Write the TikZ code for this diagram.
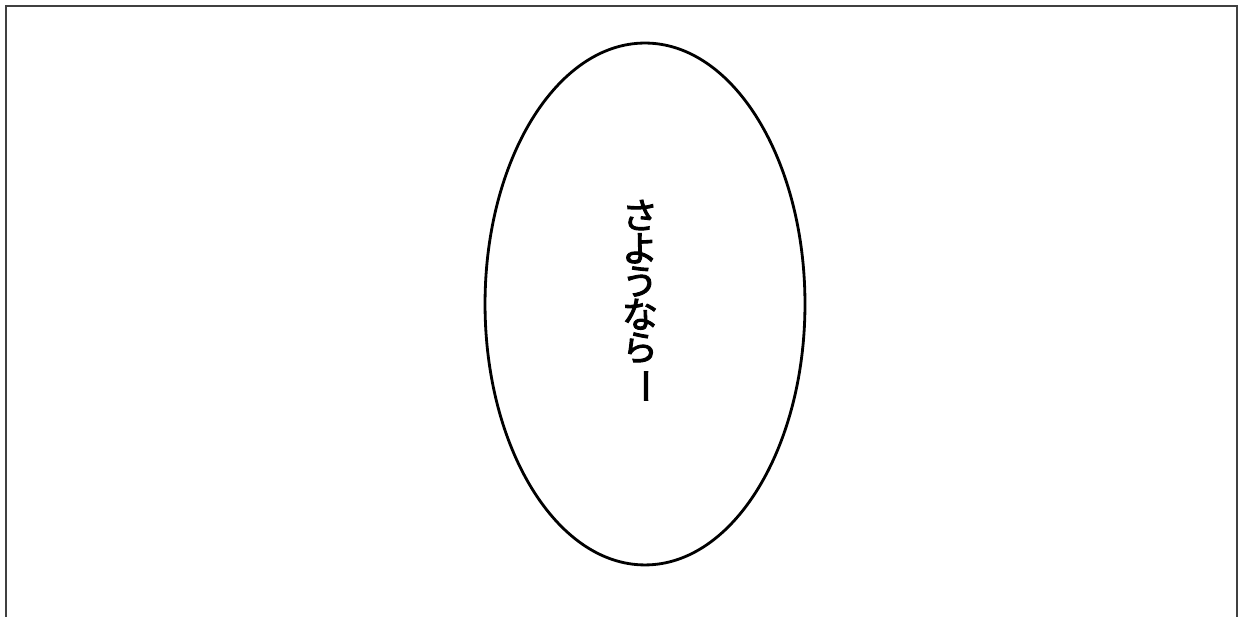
\documentclass[tikz,border=0pt]{standalone}
\usepackage{fontspec}
\newfontfamily\jpfont[UprightFeatures={FakeBold=2.6}]{Noto Sans CJK JP}
\usetikzlibrary{shapes.geometric}

\begin{document}
\begin{tikzpicture}[
x=0.02cm, y=0.02cm,
frame line/.style = {draw=black!75, line width=1.5pt},
bubble/.style = {ellipse, draw, line width=1.6pt, minimum width=6.4cm, minimum height=10.44cm, inner sep=0pt},
speech/.style = {align=center, inner sep=0pt, font=\jpfont\fontsize{20.5}{18.8}\selectfont}
]

\useasboundingbox (0,0) rectangle (1239,617);

\draw[frame line] (6,-10) -- (6,611) -- (1237,611) -- (1237,-10);

\node (bubble) at (645,313) [bubble] {};

\node (line) at (640,315) [speech] {さ\\よ\\う\\な\\ら\\\rotatebox[origin=c]{-90}{ー}};

\end{tikzpicture}
\end{document}
